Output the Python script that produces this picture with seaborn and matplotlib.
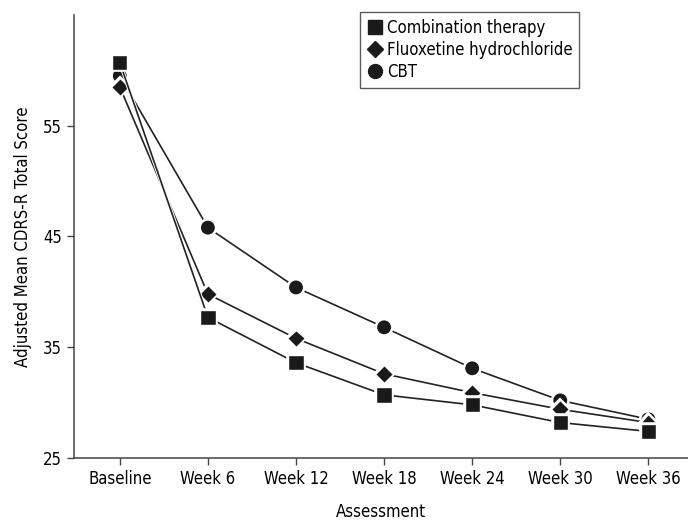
import numpy as np
import pandas as pd
import matplotlib
matplotlib.use("Agg")
import matplotlib.pyplot as plt
import matplotlib.patheffects as pe
from matplotlib import font_manager
import seaborn as sns

# ---- data ----
assessments = ["Baseline", "Week 6", "Week 12", "Week 18", "Week 24", "Week 30", "Week 36"]
combination = [60.7, 37.7, 33.6, 30.7, 29.8, 28.2, 27.4]
fluoxetine = [58.5, 39.8, 35.8, 32.6, 30.9, 29.4, 28.2]
cbt = [59.5, 45.8, 40.4, 36.8, 33.1, 30.2, 28.5]
groups = ["Combination therapy", "Fluoxetine hydrochloride", "CBT"]
y_ticks = [25, 35, 45, 55]

df = pd.DataFrame({
    "Assessment": assessments * 3,
    "Score": combination + fluoxetine + cbt,
    "Group": np.repeat(groups, len(assessments)),
})

sns.set_style("ticks")
names = {f.name for f in font_manager.fontManager.ttflist}
if "Liberation Sans Narrow" in names:
    plt.rcParams["font.family"] = ["Liberation Sans Narrow", "DejaVu Sans"]
else:
    plt.rcParams["font.family"] = ["DejaVu Sans"]
    plt.rcParams["font.stretch"] = "condensed"

fig = plt.figure(figsize=(6.88, 5.21), dpi=100)
ax = fig.add_axes([74 / 688, 1 - 458 / 521, 1 - 74 / 688, (458 - 15) / 521])

markers = {"Combination therapy": "s", "Fluoxetine hydrochloride": "D", "CBT": "o"}
sizes = {"Combination therapy": 11, "Fluoxetine hydrochloride": 9, "CBT": 11}
halo = [pe.Stroke(linewidth=2.6, foreground="white"), pe.Normal()]

# draw CBT first so combination ends up on top like the original
for g in ["CBT", "Fluoxetine hydrochloride", "Combination therapy"]:
    sub = df[df["Group"] == g]
    sns.lineplot(data=sub, x="Assessment", y="Score", ax=ax, color="#222222",
                 linewidth=1.2, marker=markers[g], markersize=sizes[g],
                 markerfacecolor="#1a1a1a", markeredgecolor="white",
                 markeredgewidth=1.0, sort=False, label=g, legend=False,
                 path_effects=halo)

ax.set_xlim(-0.52, 6.45)
ax.set_ylim(25, 65)
ax.set_yticks(y_ticks)
ax.set_xlabel("Assessment", fontsize=12, labelpad=11, color="black")
ax.set_ylabel("Adjusted Mean CDRS-R Total Score", fontsize=12, labelpad=8, color="black")
ax.tick_params(axis="both", labelsize=12, length=5, width=1, color="#444444",
               labelcolor="black", direction="out")
for s in ["top", "right"]:
    ax.spines[s].set_visible(False)
for s in ["left", "bottom"]:
    ax.spines[s].set_color("#444444")
    ax.spines[s].set_linewidth(1.1)

handles = []
for g in groups:
    h, = ax.plot([], [], linestyle="none", marker=markers[g], markersize=sizes[g] - 1,
                 markerfacecolor="#1a1a1a", markeredgecolor="#1a1a1a")
    handles.append(h)
leg = ax.legend(handles, groups, loc="upper left",
                bbox_to_anchor=(360 / 688, 1 - 12 / 521), bbox_transform=fig.transFigure,
                fontsize=12, frameon=True, fancybox=False, handletextpad=0.2,
                handlelength=1.0, borderpad=0.4, labelspacing=0.25, borderaxespad=0)
leg.get_frame().set_edgecolor("#333333")
leg.get_frame().set_linewidth(1.0)
for t in leg.get_texts():
    t.set_color("black")

fig.savefig("out.png", dpi=100)
